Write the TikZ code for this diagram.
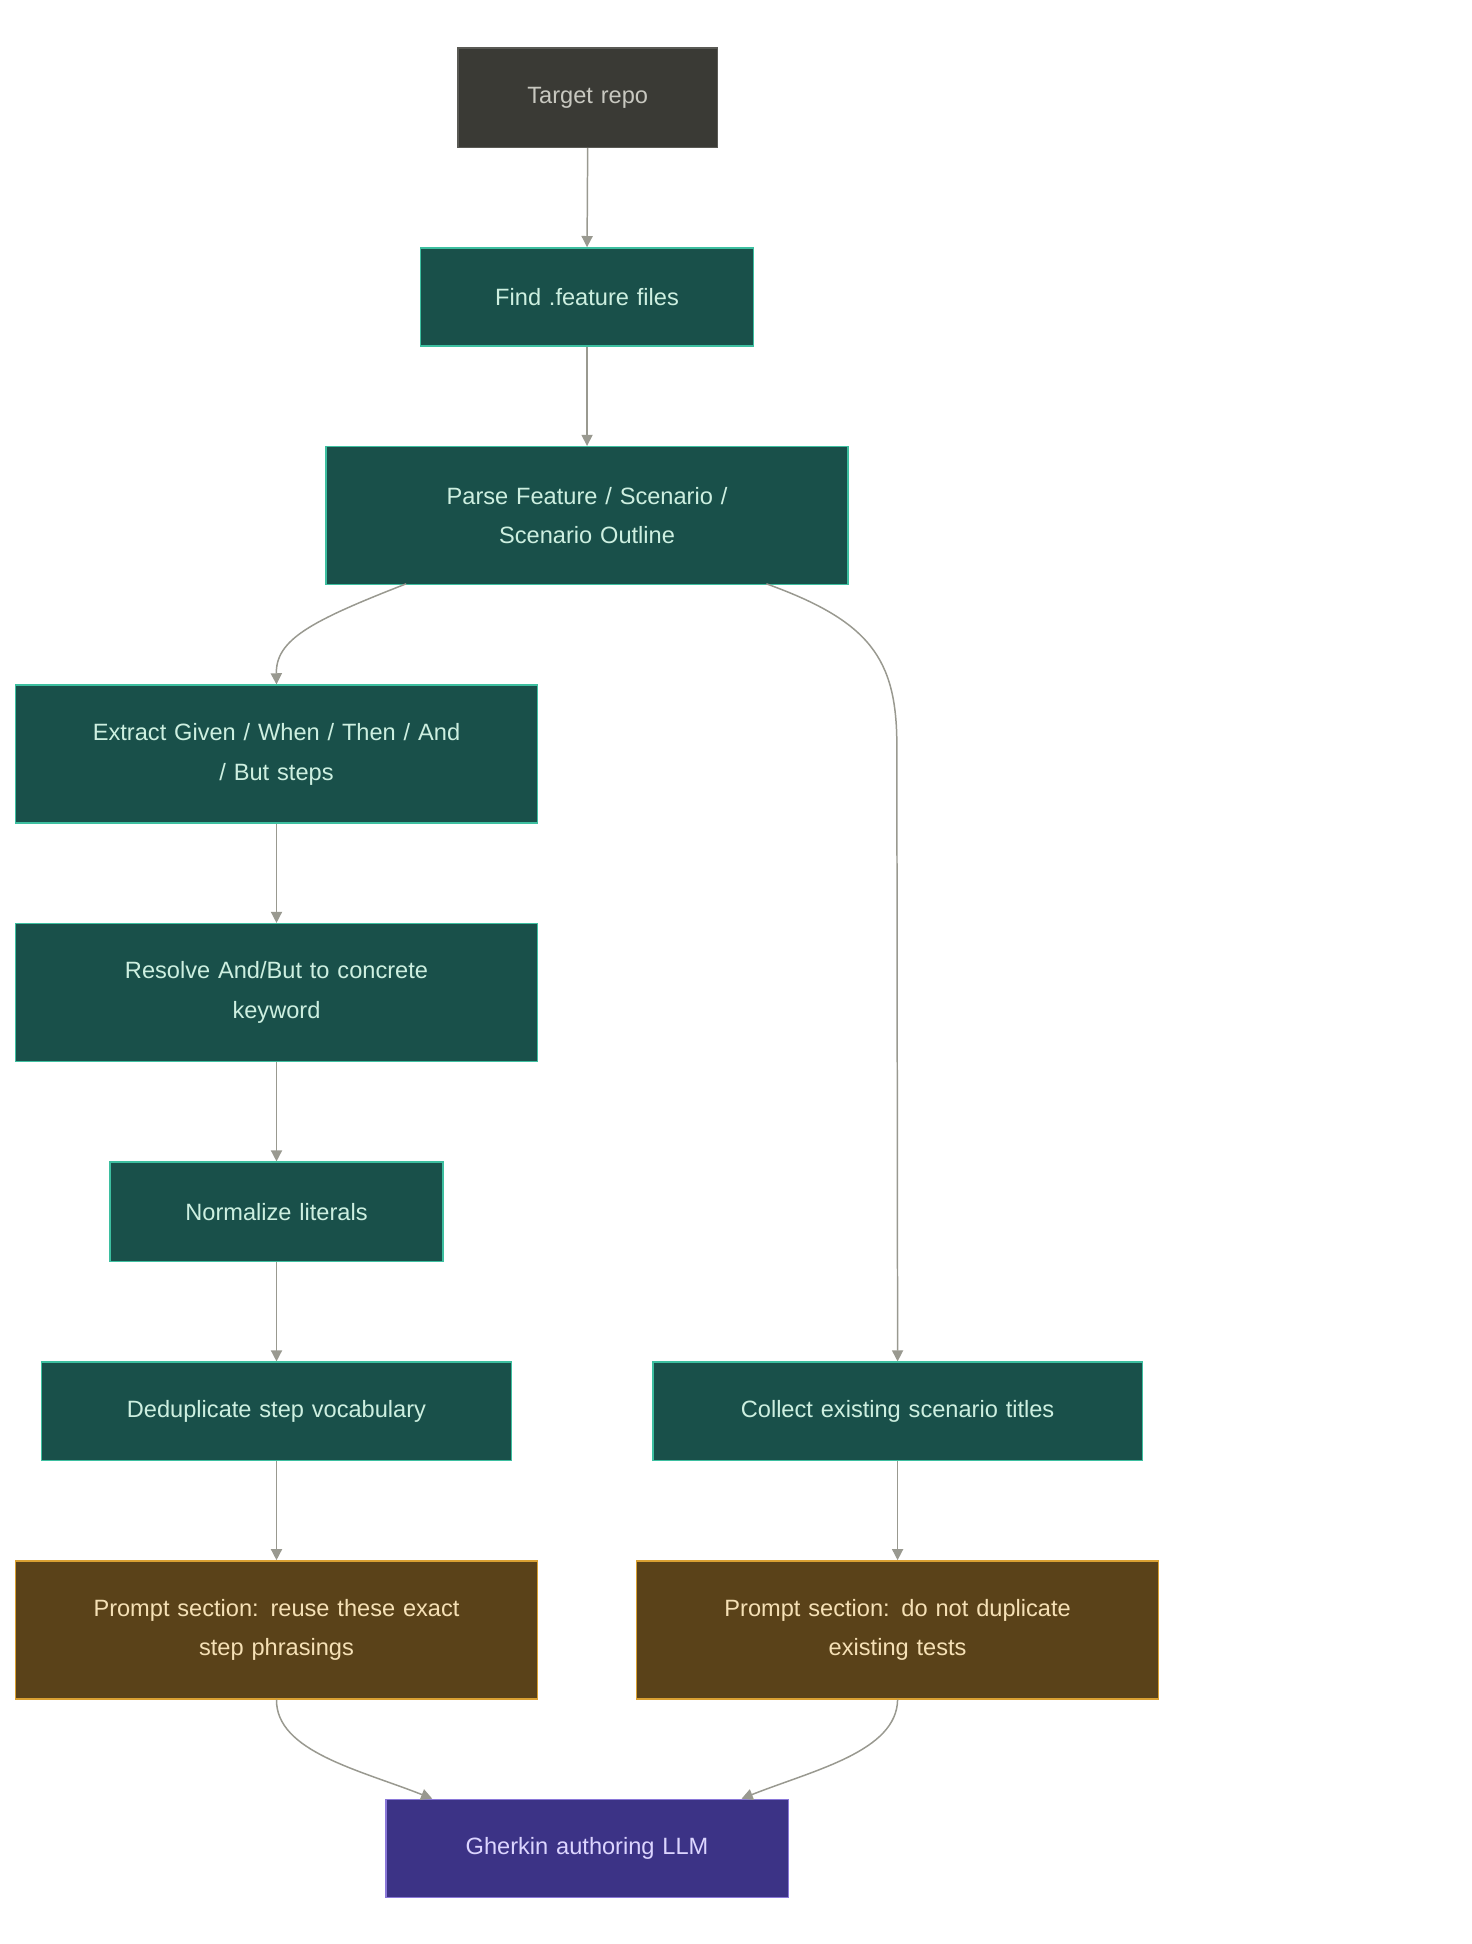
\documentclass[tikz,border=0pt]{standalone}
\usepackage{fontspec}
\setmainfont{Liberation Sans}
\usetikzlibrary{arrows.meta}
\definecolor{tealf}{HTML}{19504A}\definecolor{tealb}{HTML}{3DBFA0}\definecolor{tealt}{HTML}{CDEFE0}
\definecolor{brnf}{HTML}{5A4219}\definecolor{brnb}{HTML}{D9A032}\definecolor{brnt}{HTML}{F5E0B5}
\definecolor{purf}{HTML}{3C3386}\definecolor{purb}{HTML}{8A78D8}\definecolor{purt}{HTML}{DCD5FF}
\definecolor{grf}{HTML}{3A3A35}\definecolor{grb}{HTML}{5A5A55}\definecolor{grt}{HTML}{C8C8C0}
\definecolor{edge}{HTML}{999990}
\begin{document}
\begin{tikzpicture}[x=1pt,y=-1pt,
 box/.style={draw,line width=1.2pt,anchor=north west,align=center,inner sep=0pt,font=\fontsize{19}{32}\selectfont},
 teal/.style={box,fill=tealf,draw=tealb,text=tealt},
 brn/.style={box,fill=brnf,draw=brnb,text=brnt},
 e/.style={draw=edge,line width=1.2pt,-{Triangle[length=9pt,width=9pt]}}]
\useasboundingbox (0,0) rectangle (1185,1565);
\newcommand{\bx}[7]{\node[#1,minimum width=#4-#3,minimum height=#6-#5,text width=#4-#3-40] (#2) at (#3,#5) {#7};}
\bx{box,fill=grf,draw=grb,text=grt}{t}{368}{577}{38}{118}{Target repo}
\bx{teal}{f}{338}{606}{199}{278}{Find .feature files}
\bx{teal}{p}{262}{682}{359}{470}{Parse Feature / Scenario /\\Scenario Outline}
\bx{teal}{x}{12}{432}{551}{662}{Extract Given / When / Then / And\\/ But steps}
\bx{teal}{r}{12}{432}{743}{854}{Resolve And/But to concrete\\keyword}
\bx{teal}{n}{88}{356}{935}{1015}{Normalize literals}
\bx{teal}{d}{33}{411}{1096}{1175}{Deduplicate step vocabulary}
\bx{teal}{c}{525}{919}{1096}{1175}{Collect existing scenario titles}
\bx{brn}{pl}{12}{432}{1256}{1367}{Prompt section: reuse these exact\\step phrasings}
\bx{brn}{pr}{512}{932}{1256}{1367}{Prompt section: do not duplicate\\existing tests}
\bx{box,fill=purf,draw=purb,text=purt}{g}{310}{634}{1448}{1527}{Gherkin authoring LLM}
\draw[e] (t.south) -- (f.north);
\draw[e] (f.south) -- (p.north);
\draw[e] (327,470) .. controls (250,500) and (222,515) .. (x.north);
\draw[e] (617,470) .. controls (700,500) and (722,530) .. (722,600) -- (c.north);
\draw[e] (x.south) -- (r.north);
\draw[e] (r.south) -- (n.north);
\draw[e] (n.south) -- (d.north);
\draw[e] (d.south) -- (pl.north);
\draw[e] (c.south) -- (pr.north);
\draw[e] (pl.south) .. controls (222,1410) and (290,1425) .. (348,1448);
\draw[e] (pr.south) .. controls (722,1410) and (655,1425) .. (597,1448);
\end{tikzpicture}
\end{document}
